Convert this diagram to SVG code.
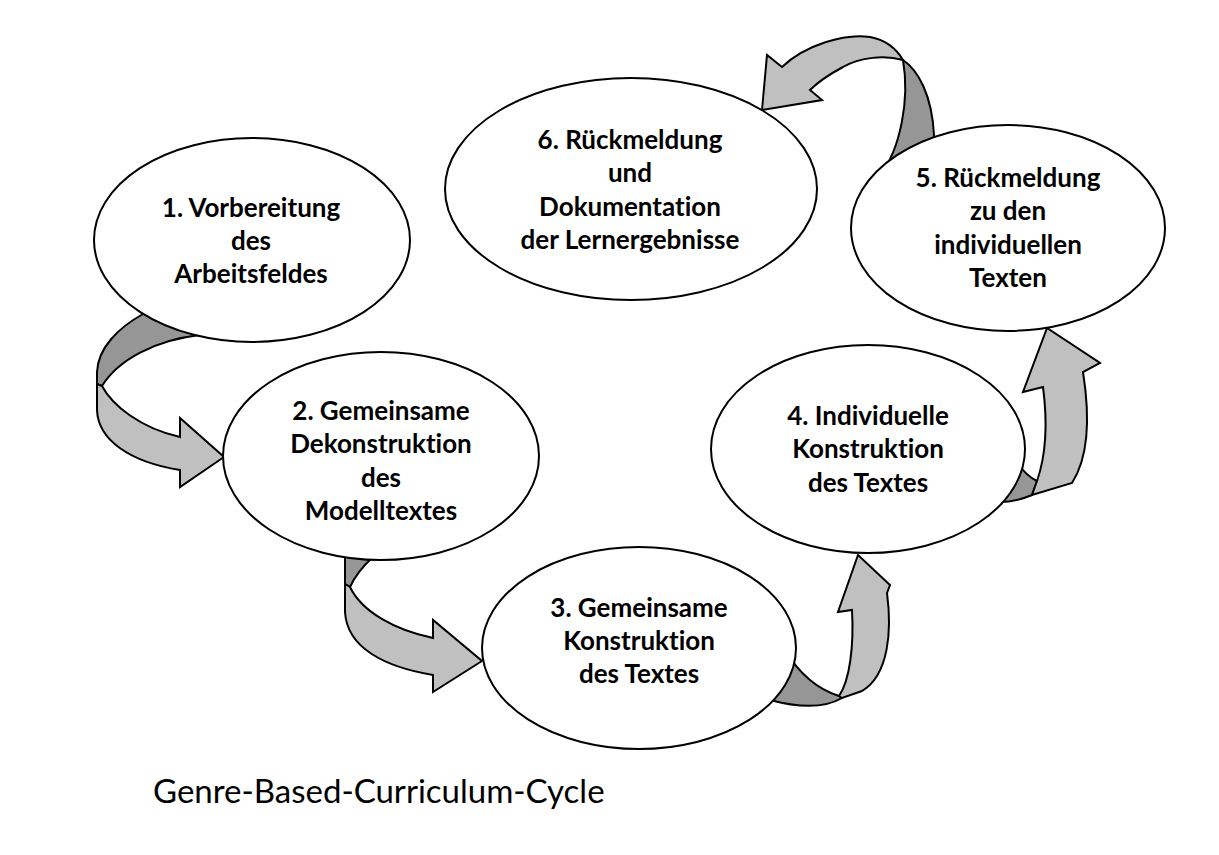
<svg xmlns="http://www.w3.org/2000/svg" width="1219" height="855" viewBox="0 0 1219 855">
<style>
.node ellipse{fill:#fff;stroke:#000;stroke-width:2}
.node text{font-family:Lato,"Liberation Sans",sans-serif;font-weight:bold;font-size:26px;text-anchor:middle;fill:#000;font-variant-ligatures:none}
.light{fill:#c0c0c0;stroke:#000;stroke-width:2;stroke-linejoin:miter}
.dark{fill:#969696;stroke:#000;stroke-width:2;stroke-linejoin:round}
.caption{font-family:Lato,"Liberation Sans",sans-serif;font-size:33px;fill:#000;font-variant-ligatures:none}
</style>
<rect width="1219" height="855" fill="#fff"/>
<g id="connectors">
  <g id="arrow-1-2">
    <path class="dark" d="M143,314 C118,328 98,348 97,372 L97,384 L102,386 C118,360 155,340 200,335 L175,300 Z"/>
    <path class="light" d="M102,386 C112,405 140,428 180,437 L180,418 L224,457 L180,487 L180,470 C130,462 98,440 97,410 L97,384 Z"/>
  </g>
  <g id="arrow-2-3">
    <path class="dark" d="M345,555 L345,584 L350,587 C355,576 362,567 373,557 L360,540 Z"/>
    <path class="light" d="M350,587 C362,612 395,630 433,638 L433,620 L482,661 L433,692 L433,675 C385,667 347,648 345,612 L345,584 Z"/>
  </g>
  <g id="arrow-3-4">
    <path class="dark" d="M785,650 C800,675 820,690 839,696 L842,698 C825,708 800,708 770,700 Z"/>
    <path class="light" d="M839,696 C850,680 854,645 852,610 L838,612 L858,555 L890,585 L887,593 C892,630 889,675 862,691 L842,698 Z"/>
  </g>
  <g id="arrow-4-5">
    <path class="dark" d="M1015,460 C1022,470 1030,478 1037,481 L1032,495 C1025,498 1012,502 1000,502 Z"/>
    <path class="light" d="M1037,481 C1046,455 1048,425 1043,387 L1023,392 L1047,328 L1100,363 L1083,372 C1089,410 1090,455 1072,483 L1032,495 Z"/>
  </g>
  <g id="arrow-5-6">
    <path class="dark" d="M903,60 C918,70 932,95 934,135 L934,170 L880,175 C900,150 910,100 903,60 Z"/>
    <path class="light" d="M903,60 C885,55 860,57 843,67 C830,74 818,82 810,90 L822,100 L762,110 L767,55 L782,67 C805,45 845,33 870,37 C887,40 897,50 903,60 Z"/>
  </g>
</g>
<g id="node1" class="node">
  <ellipse cx="252" cy="240" rx="158" ry="102"/>
  <text x="251" y="217">1. Vorbereitung</text>
  <text x="251" y="250">des</text>
  <text x="251" y="283">Arbeitsfeldes</text>
</g>
<g id="node2" class="node">
  <ellipse cx="381" cy="456" rx="158" ry="104"/>
  <text x="381" y="420">2. Gemeinsame</text>
  <text x="381" y="453">Dekonstruktion</text>
  <text x="381" y="487">des</text>
  <text x="381" y="520">Modelltextes</text>
</g>
<g id="node3" class="node">
  <ellipse cx="639" cy="648" rx="157" ry="101"/>
  <text x="639" y="617">3. Gemeinsame</text>
  <text x="639" y="650">Konstruktion</text>
  <text x="639" y="683">des Textes</text>
</g>
<g id="node4" class="node">
  <ellipse cx="868" cy="449" rx="157" ry="104"/>
  <text x="868" y="425">4. Individuelle</text>
  <text x="868" y="458">Konstruktion</text>
  <text x="868" y="492">des Textes</text>
</g>
<g id="node5" class="node">
  <ellipse cx="1008" cy="228" rx="157" ry="103"/>
  <text x="1008" y="187">5. Rückmeldung</text>
  <text x="1008" y="220">zu den</text>
  <text x="1008" y="254">individuellen</text>
  <text x="1008" y="287">Texten</text>
</g>
<g id="node6" class="node">
  <ellipse cx="631" cy="189" rx="186" ry="111"/>
  <text x="630" y="149">6. Rückmeldung</text>
  <text x="630" y="182">und</text>
  <text x="630" y="216">Dokumentation</text>
  <text x="630" y="249">der Lernergebnisse</text>
</g>
<text class="caption" x="153" y="803">Genre-Based-Curriculum-Cycle</text>
</svg>
